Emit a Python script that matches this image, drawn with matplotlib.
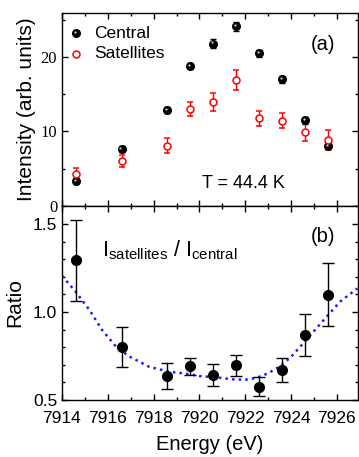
import numpy as np
import matplotlib
matplotlib.use('Agg')
import matplotlib.pyplot as plt
from matplotlib.transforms import offset_copy
from matplotlib.ticker import MultipleLocator

plt.rcParams['font.family'] = 'Liberation Sans'
plt.rcParams['mathtext.fontset'] = 'custom'
plt.rcParams['mathtext.rm'] = 'Liberation Sans'
plt.rcParams['mathtext.it'] = 'Liberation Sans'

# data
energy = [7914.6, 7916.6, 7918.6, 7919.6, 7920.6, 7921.6, 7922.6, 7923.6, 7924.6, 7925.6]
central = [3.3, 7.6, 12.9, 18.8, 21.8, 24.1, 20.5, 17.0, 11.5, 8.1]
central_err = [0.4, 0.4, 0.45, 0.45, 0.6, 0.6, 0.5, 0.5, 0.5, 0.5]
satellites = [4.35, 6.05, 8.1, 13.0, 13.9, 16.9, 11.8, 11.45, 9.95, 8.85]
satellites_err = [0.75, 0.8, 1.0, 0.95, 1.2, 1.4, 1.0, 1.0, 1.2, 1.3]
ratio = [1.294, 0.803, 0.636, 0.691, 0.640, 0.698, 0.576, 0.670, 0.869, 1.098]
ratio_err = [0.23, 0.114, 0.073, 0.05, 0.062, 0.06, 0.055, 0.07, 0.12, 0.18]
fit_e = [7914.0, 7914.6, 7915.2, 7915.75, 7916.3, 7916.9, 7917.8, 7918.65, 7919.5,
         7920.0, 7920.7, 7921.5, 7922.0, 7922.5, 7923.0, 7923.5, 7924.0, 7924.4,
         7925.3, 7926.15, 7926.9]
fit_r = [1.205, 1.115, 1.011, 0.898, 0.812, 0.75, 0.689, 0.661, 0.648,
         0.636, 0.629, 0.617, 0.615, 0.626, 0.652, 0.690, 0.745, 0.803,
         0.936, 1.06, 1.134]

fig = plt.figure(figsize=(3.59, 4.57), dpi=100)
l, r = 62 / 359, 357.5 / 359
ax1 = fig.add_axes([l, 1 - 206 / 457, r - l, (206 - 13) / 457])
ax2 = fig.add_axes([l, 1 - 400 / 457, r - l, (400 - 206) / 457], sharex=ax1)

for ax in (ax1, ax2):
    ax.tick_params(which='both', direction='in', top=True, right=True, width=1)
    ax.tick_params(which='major', length=4)
    ax.tick_params(which='minor', length=2.5)
    for s in ax.spines.values():
        s.set_linewidth(1)
    ax.xaxis.set_major_locator(MultipleLocator(2))
    ax.xaxis.set_minor_locator(MultipleLocator(1))

# top panel
ax1.errorbar(energy, central, yerr=central_err, fmt='o', color='black', ms=5.5,
             capsize=2.5, elinewidth=1, capthick=1, zorder=3)
hl = offset_copy(ax1.transData, fig=fig, x=-0.8, y=0.8, units='points')
ax1.plot(energy, central, 'o', color='#d0d0d0', ms=1.6, mec='none', transform=hl, zorder=4)
ax1.errorbar(energy, satellites, yerr=satellites_err, fmt='o', color='red', mfc='white',
             mec='red', ms=5, mew=1.1, capsize=2.5, elinewidth=1, capthick=1, zorder=3)
ax1.set_xlim(7914, 7926.9)
ax1.set_ylim(0, 25.9)
ax1.yaxis.set_major_locator(MultipleLocator(10))
ax1.yaxis.set_minor_locator(MultipleLocator(5))
ax1.tick_params(labelbottom=False)
for t in ax1.get_yticklabels():
    t.set_fontfamily('Liberation Serif')
    t.set_fontsize(12)
ax1.set_ylabel('Intensity (arb. units)', fontsize=15, labelpad=3)

# hand-made legend
ax1.plot([7914.6], [23.2], 'o', color='black', ms=5.5)
ax1.plot([7914.6], [23.2], 'o', color='#d0d0d0', ms=1.6, mec='none', transform=hl)
ax1.plot([7914.6], [20.4], 'o', color='red', mfc='white', ms=5, mew=1.1)
ax1.text(7915.4, 23.2, 'Central', fontsize=12.5, va='center')
ax1.text(7915.4, 20.4, 'Satellites', fontsize=12.5, va='center')
ax1.text(7925.95, 21.7, '(a)', fontsize=14.5, ha='right', va='center')
ax1.text(7920.1, 2.97, 'T = 44.4 K', fontsize=13, va='center')

# bottom panel
ax2.plot(fit_e, fit_r, ':', color='#1a1aff', lw=1.8, zorder=2)
ax2.errorbar(energy, ratio, yerr=ratio_err, fmt='o', color='black', ms=7,
             capsize=4.5, elinewidth=1, capthick=1, zorder=3)
ax2.set_ylim(0.5, 1.602)
ax2.yaxis.set_major_locator(MultipleLocator(0.5))
ax2.yaxis.set_minor_locator(MultipleLocator(0.1))
ax2.tick_params(labelsize=12.5)
ax2.tick_params(axis='x', pad=8)
ax2.set_ylabel('Ratio', fontsize=15, labelpad=6)
ax2.set_xlabel('Energy (eV)', fontsize=14.5, labelpad=6.5)
ax2.text(7925.95, 1.43, '(b)', fontsize=14.5, ha='right', va='center')
ax2.text(7915.75, 1.314, r'$\mathregular{I_{satellites}\ /\ I_{central}}$',
         fontsize=15.5, va='baseline')

fig.savefig('out.png', dpi=100)
